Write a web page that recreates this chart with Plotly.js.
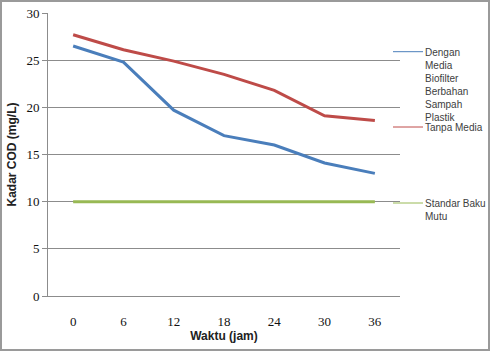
<!DOCTYPE html>
<html><head><meta charset="utf-8">
<script src="https://cdn.plot.ly/plotly-3.0.1.min.js"></script>
<style>
html,body{margin:0;padding:0;background:#fff;}
#wrap{position:relative;width:490px;height:351px;}
#chart{position:absolute;left:0;top:0;width:490px;height:351px;}
#frame{position:absolute;left:0;top:0;width:490px;height:351px;box-sizing:border-box;border:2px solid #9a9a9a;pointer-events:none;}
</style></head>
<body><div id="wrap"><div id="chart"></div><div id="frame"></div></div>
<script>
const waktu = ['0','6','12','18','24','30','36'];
const denganMedia = [26.5, 24.8, 19.7, 17.0, 16.0, 14.1, 13.0];
const tanpaMedia = [27.7, 26.1, 24.9, 23.5, 21.8, 19.1, 18.6];
const standarBakuMutu = [10, 10, 10, 10, 10, 10, 10];
const seriesNames = ['Dengan<br>Media<br>Biofilter<br>Berbahan<br>Sampah<br>Plastik', 'Tanpa Media', 'Standar Baku<br>Mutu'];
const seriesColors = ['#4a7ebb', '#be4b48', '#98b954'];
const seriesData = [denganMedia, tanpaMedia, standarBakuMutu];

const traces = seriesData.map((vals, i) => ({
  x: waktu, y: vals, type: 'scatter', mode: 'lines',
  line: {color: seriesColors[i], width: 3},
  showlegend: false, hoverinfo: 'skip'
}));

// custom legend (keys positioned like the reference)
const L = 48, R = 400, T = 13, B = 296;
const px = x => (x - L) / (R - L);
const py = y => (B - y) / (B - T);
const keyY = [51.7, 127, 203];
const shapes = [], annotations = [];
keyY.forEach((yy, i) => {
  shapes.push({type: 'line', xref: 'paper', yref: 'paper', x0: px(393), x1: px(423), y0: py(yy), y1: py(yy),
    line: {color: seriesColors[i], width: 1}});
  annotations.push({xref: 'paper', yref: 'paper', x: px(423), y: py(yy - 7), xanchor: 'left', yanchor: 'top',
    align: 'left', showarrow: false, text: seriesNames[i],
    font: {family: 'Liberation Sans, Arial, sans-serif', size: 10, color: '#404040'}});
});

const layout = {
  width: 490, height: 351,
  margin: {l: L, r: 490 - R, t: T, b: 351 - B},
  paper_bgcolor: '#fff', plot_bgcolor: '#fff',
  showlegend: false,
  xaxis: {
    type: 'category', range: [-0.5, 6.5], showgrid: false, zeroline: false,
    showline: true, linecolor: '#8c8c8c', linewidth: 1,
    ticks: 'outside', ticklen: 13, tickcolor: 'rgba(0,0,0,0)',
    tickfont: {family: 'Liberation Serif, serif', size: 13, color: '#111'},
    title: {text: '<b>Waktu (jam)</b>', standoff: 0,
      font: {family: 'Liberation Sans, Arial, sans-serif', size: 12, color: '#222'}},
    automargin: false
  },
  yaxis: {
    range: [0, 30], dtick: 5, tick0: 0, showgrid: true, gridcolor: '#8c8c8c', gridwidth: 1,
    zeroline: false, showline: true, linecolor: '#8c8c8c', linewidth: 1,
    ticks: 'outside', ticklen: 5, tickcolor: '#8c8c8c',
    tickfont: {family: 'Liberation Serif, serif', size: 13, color: '#111'},
    title: {text: '<b>Kadar COD (mg/L)</b>', standoff: 7,
      font: {family: 'Liberation Sans, Arial, sans-serif', size: 12, color: '#222'}},
    automargin: false
  },
  shapes: shapes,
  annotations: annotations
};

Plotly.newPlot('chart', traces, layout, {displayModeBar: false, staticPlot: true});
</script></body></html>
